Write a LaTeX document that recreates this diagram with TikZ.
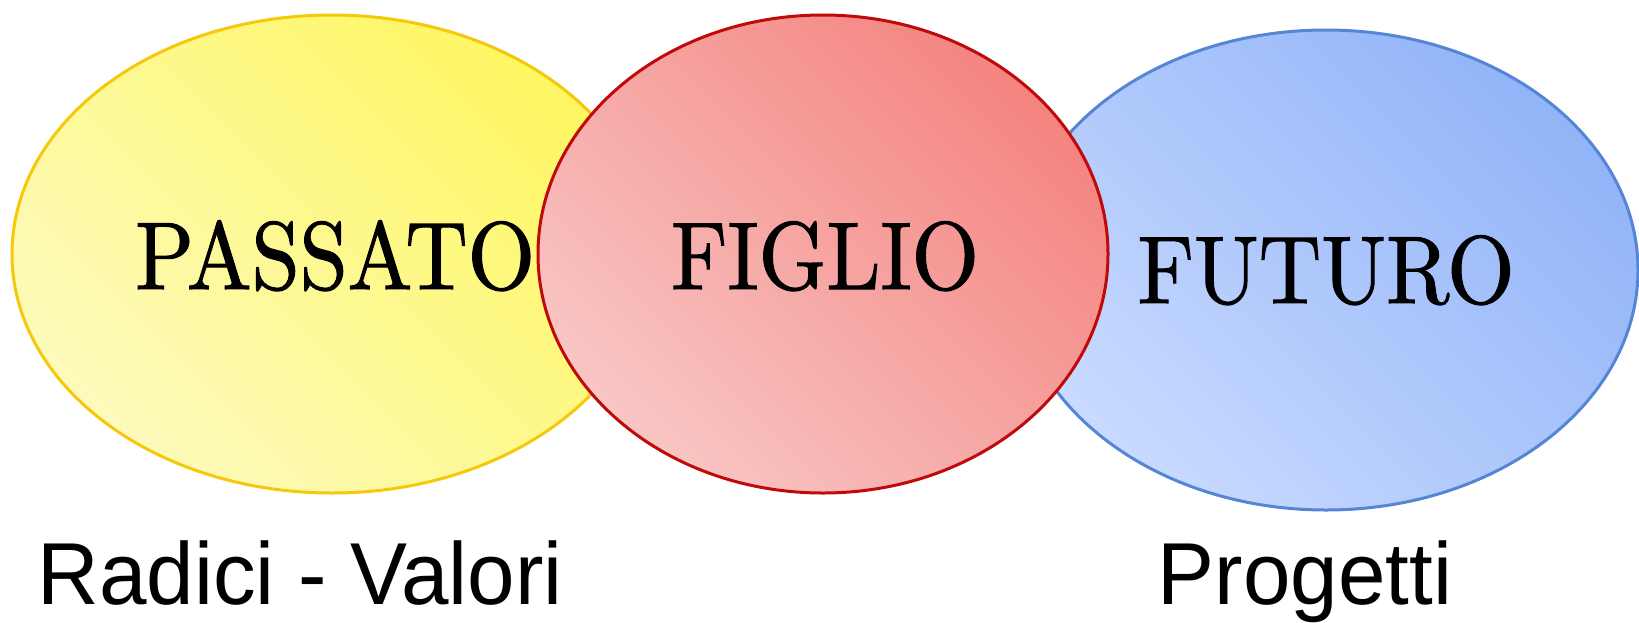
\documentclass[tikz,border=0pt]{standalone}
\usepackage{fontspec}
\setsansfont{Liberation Sans}
\newfontfamily\tenroman{lmroman10-regular}[Extension=.otf, FakeBold=1.2]
\usepackage{tikz}
\usepackage{color}

\definecolor{passatoLight}{RGB}{253,250,188}
\definecolor{passatoDark}{RGB}{254,247,98}
\definecolor{passatoEdge}{RGB}{245,200,10}
\definecolor{figlioLight}{RGB}{248,198,196}
\definecolor{figlioDark}{RGB}{244,132,128}
\definecolor{figlioEdge}{RGB}{192,10,10}
\definecolor{futuroLight}{RGB}{200,218,255}
\definecolor{futuroDark}{RGB}{146,180,248}
\definecolor{futuroEdge}{RGB}{85,133,213}

\tikzset{
  bigword/.style={font=\tenroman\fontsize{96}{100}\selectfont, anchor=base, inner sep=0pt, xscale=0.9},
  sideword/.style={font=\sffamily\fontsize{88}{92}\selectfont, anchor=base, inner sep=0pt, xscale=0.97}
}

\begin{document}
\begin{tikzpicture}[x=1pt,y=1pt,yscale=-1,xscale=1]
\useasboundingbox (0,0) rectangle (1639,622);

%Shape: Ellipse PASSATO
\draw [draw=passatoEdge, line width=3pt, top color=passatoDark, bottom color=passatoLight, shading angle=-45] (332,254) ellipse [x radius=320, y radius=239];
%Shape: Ellipse FUTURO
\draw [draw=futuroEdge, line width=3pt, top color=futuroDark, bottom color=futuroLight, shading angle=-45] (1326,270) ellipse [x radius=312, y radius=240];
%Shape: Ellipse FIGLIO
\draw [draw=figlioEdge, line width=3pt, top color=figlioDark, bottom color=figlioLight, shading angle=-45] (823,254) ellipse [x radius=285, y radius=239];

% Text Node
\node [bigword] (passato) at (335,289) {PASSATO};
% Text Node
\node [bigword] (figlio) at (825,289) {FIGLIO};
% Text Node
\node [bigword] (futuro) at (1326,303) {FUTURO};
% Text Node
\node [sideword] (radici) at (300,604) {Radici - Valori};
% Text Node
\node [sideword] (progetti) at (1305,604) {Progetti};

\end{tikzpicture}
\end{document}
